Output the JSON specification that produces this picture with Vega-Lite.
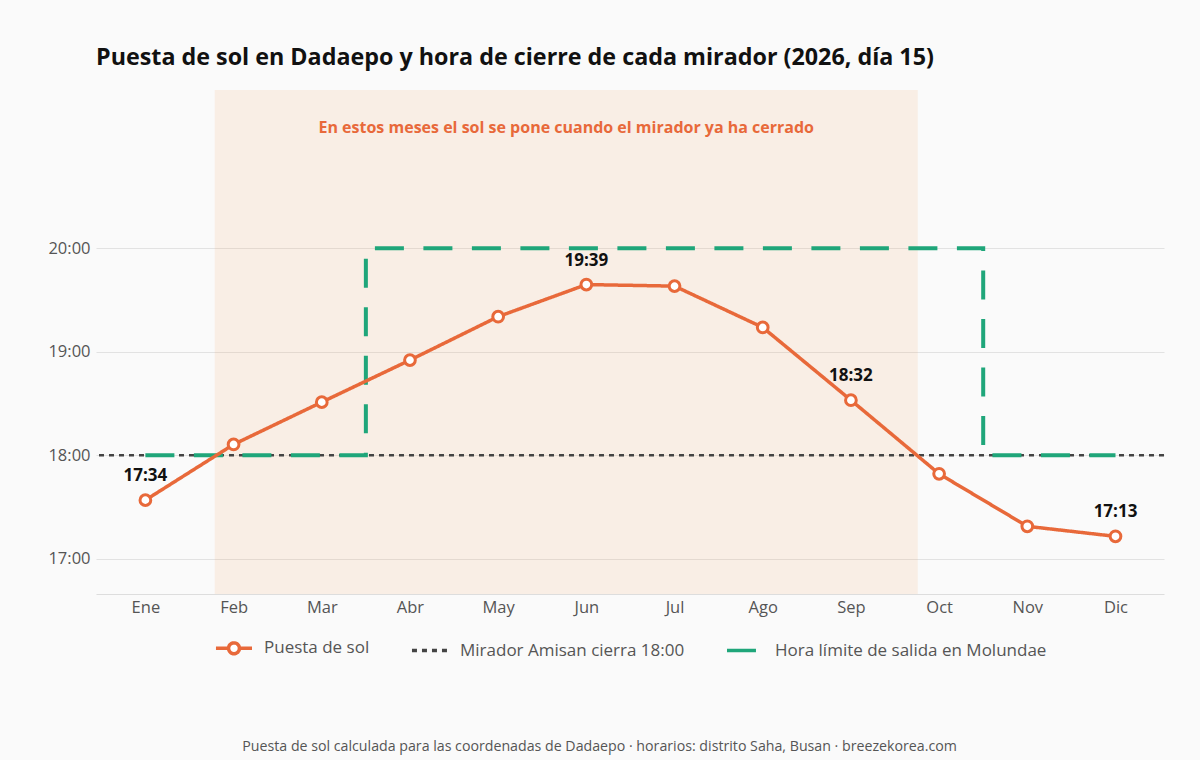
{
  "$schema": "https://vega.github.io/schema/vega-lite/v6.json",
  "background": "#fafafa",
  "padding": {"left": 47, "top": 45, "right": 36, "bottom": 8},
  "config": {"font": "Open Sans", "view": {"stroke": null}, "legend": {"layout": {"bottom": {"anchor": "middle"}}}},
  "title": {
    "text": "Puesta de sol calculada para las coordenadas de Dadaepo · horarios: distrito Saha, Busan · breezekorea.com",
    "orient": "bottom", "anchor": "middle", "frame": "bounds", "dx": -7,
    "fontSize": 14.2, "fontWeight": "normal", "color": "#555555", "offset": 79
  },
  "datasets": {
    "sun": [
      {"mes": 1, "t": 17.567, "serie": "Puesta de sol", "lab": "17:34"},
      {"mes": 2, "t": 18.105, "serie": "Puesta de sol"},
      {"mes": 3, "t": 18.514, "serie": "Puesta de sol"},
      {"mes": 4, "t": 18.92, "serie": "Puesta de sol"},
      {"mes": 5, "t": 19.34, "serie": "Puesta de sol"},
      {"mes": 6, "t": 19.65, "serie": "Puesta de sol", "lab": "19:39"},
      {"mes": 7, "t": 19.635, "serie": "Puesta de sol"},
      {"mes": 8, "t": 19.236, "serie": "Puesta de sol"},
      {"mes": 9, "t": 18.533, "serie": "Puesta de sol", "lab": "18:32"},
      {"mes": 10, "t": 17.821, "serie": "Puesta de sol"},
      {"mes": 11, "t": 17.314, "serie": "Puesta de sol"},
      {"mes": 12, "t": 17.217, "serie": "Puesta de sol", "lab": "17:13"}
    ],
    "limite": [
      {"mes": 1, "t": 18, "serie": "Hora límite de salida en Molundae"},
      {"mes": 2, "t": 18, "serie": "Hora límite de salida en Molundae"},
      {"mes": 3, "t": 18, "serie": "Hora límite de salida en Molundae"},
      {"mes": 4, "t": 20, "serie": "Hora límite de salida en Molundae"},
      {"mes": 5, "t": 20, "serie": "Hora límite de salida en Molundae"},
      {"mes": 6, "t": 20, "serie": "Hora límite de salida en Molundae"},
      {"mes": 7, "t": 20, "serie": "Hora límite de salida en Molundae"},
      {"mes": 8, "t": 20, "serie": "Hora límite de salida en Molundae"},
      {"mes": 9, "t": 20, "serie": "Hora límite de salida en Molundae"},
      {"mes": 10, "t": 20, "serie": "Hora límite de salida en Molundae"},
      {"mes": 11, "t": 18, "serie": "Hora límite de salida en Molundae"},
      {"mes": 12, "t": 18, "serie": "Hora límite de salida en Molundae"}
    ],
    "cierre": [{"t": 18, "serie": "Mirador Amisan cierra 18:00"}],
    "zona": [{"desde": 1.786, "hasta": 9.758, "xm": 5.772, "ym": 21.16, "texto": "En estos meses el sol se pone cuando el mirador ya ha cerrado"}]
  },
  "vconcat": [
    {
      "width": 1068,
      "height": 504,
      "title": {
        "text": "Puesta de sol en Dadaepo y hora de cierre de cada mirador (2026, día 15)",
        "anchor": "start", "frame": "group", "fontSize": 23.3, "fontWeight": "bold",
        "color": "#111111", "offset": 20
      },
      "layer": [
        {
          "data": {"name": "zona"},
          "mark": {"type": "rect", "fill": "#F5A050", "opacity": 0.12},
          "encoding": {
            "x": {
              "field": "desde", "type": "quantitative",
              "scale": {"domain": [0.44, 12.55], "nice": false, "zero": false},
              "axis": {
                "title": null, "values": [1,2,3,4,5,6,7,8,9,10,11,12],
                "labelExpr": "['Ene','Feb','Mar','Abr','May','Jun','Jul','Ago','Sep','Oct','Nov','Dic'][datum.value-1]",
                "grid": false, "ticks": false, "domainColor": "#dddddd", "domainWidth": 1,
                "labelFontSize": 16.5, "labelColor": "#555555", "labelPadding": 5
              }
            },
            "x2": {"field": "hasta"}
          }
        },
        {
          "data": {"name": "zona"},
          "mark": {"type": "text", "color": "#E8693A", "fontWeight": "bold", "fontSize": 16, "align": "center", "baseline": "middle"},
          "encoding": {
            "x": {"field": "xm", "type": "quantitative"},
            "y": {"field": "ym", "type": "quantitative"},
            "text": {"field": "texto"}
          }
        },
        {
          "data": {"name": "cierre"},
          "mark": {"type": "rule", "strokeWidth": 2.5},
          "encoding": {
            "y": {
              "field": "t", "type": "quantitative",
              "scale": {"domain": [16.66, 21.53], "nice": false, "zero": false},
              "axis": {
                "title": null, "values": [17, 18, 19, 20],
                "labelExpr": "floor(datum.value) + ':00'",
                "grid": true, "gridColor": "#e2e2e2", "gridWidth": 1,
                "domain": false, "ticks": false,
                "labelFontSize": 16.5, "labelColor": "#555555", "labelPadding": 6
              }
            },
            "color": {"field": "serie", "type": "nominal"},
            "strokeDash": {"field": "serie", "type": "nominal"}
          }
        },
        {
          "data": {"name": "limite"},
          "mark": {"type": "line", "interpolate": "step", "strokeWidth": 4},
          "encoding": {
            "x": {"field": "mes", "type": "quantitative"},
            "y": {"field": "t", "type": "quantitative"},
            "color": {"field": "serie", "type": "nominal"},
            "strokeDash": {"field": "serie", "type": "nominal"}
          }
        },
        {
          "data": {"name": "sun"},
          "mark": {"type": "line", "strokeWidth": 3.5},
          "encoding": {
            "x": {"field": "mes", "type": "quantitative"},
            "y": {"field": "t", "type": "quantitative"},
            "color": {
              "field": "serie", "type": "nominal",
              "scale": {
                "domain": ["Puesta de sol", "Mirador Amisan cierra 18:00", "Hora límite de salida en Molundae"],
                "range": ["#E8693A", "#444444", "#1FA67A"]
              },
              "legend": {
                "title": null, "orient": "bottom", "direction": "horizontal",
                "labelFontSize": 17, "labelColor": "#555555", "labelLimit": 500,
                "symbolType": "stroke", "symbolStrokeWidth": 3.5, "symbolSize": 1300,
                "columnPadding": 34, "labelOffset": 10, "offset": 12,
                "encode": {
                  "symbols": {
                    "update": {
                      "shape": {"signal": "datum.label === 'Puesta de sol' ? 'M-1,0L-0.3,0M0.3,0L1,0M0.3,0A0.3,0.3,0,1,1,-0.3,0A0.3,0.3,0,1,1,0.3,0' : 'stroke'"},
                      "fill": {"signal": "datum.label === 'Puesta de sol' ? 'white' : 'transparent'"}
                    }
                  }
                }
              }
            },
            "strokeDash": {
              "field": "serie", "type": "nominal",
              "scale": {
                "domain": ["Puesta de sol", "Mirador Amisan cierra 18:00", "Hora límite de salida en Molundae"],
                "range": [[1, 0], [5, 5], [29, 19.5]]
              },
              "legend": {
                "title": null, "orient": "bottom", "direction": "horizontal",
                "labelFontSize": 17, "labelColor": "#555555", "labelLimit": 500,
                "symbolType": "stroke", "symbolStrokeWidth": 3.5, "symbolSize": 1300,
                "columnPadding": 34, "labelOffset": 10, "offset": 12,
                "encode": {
                  "symbols": {
                    "update": {
                      "shape": {"signal": "datum.label === 'Puesta de sol' ? 'M-1,0L-0.3,0M0.3,0L1,0M0.3,0A0.3,0.3,0,1,1,-0.3,0A0.3,0.3,0,1,1,0.3,0' : 'stroke'"},
                      "fill": {"signal": "datum.label === 'Puesta de sol' ? 'white' : 'transparent'"}
                    }
                  }
                }
              }
            }
          }
        },
        {
          "data": {"name": "sun"},
          "mark": {"type": "point", "shape": "circle", "filled": true, "fill": "white", "stroke": "#E8693A", "strokeWidth": 3, "size": 115, "opacity": 1},
          "encoding": {
            "x": {"field": "mes", "type": "quantitative"},
            "y": {"field": "t", "type": "quantitative"}
          }
        },
        {
          "data": {"name": "sun"},
          "transform": [{"filter": "isValid(datum.lab)"}],
          "mark": {"type": "text", "fontWeight": "bold", "fontSize": 17, "color": "#111111", "align": "center", "baseline": "bottom", "dy": -15},
          "encoding": {
            "x": {"field": "mes", "type": "quantitative"},
            "y": {"field": "t", "type": "quantitative"},
            "text": {"field": "lab"}
          }
        }
      ]
    }
  ]
}
